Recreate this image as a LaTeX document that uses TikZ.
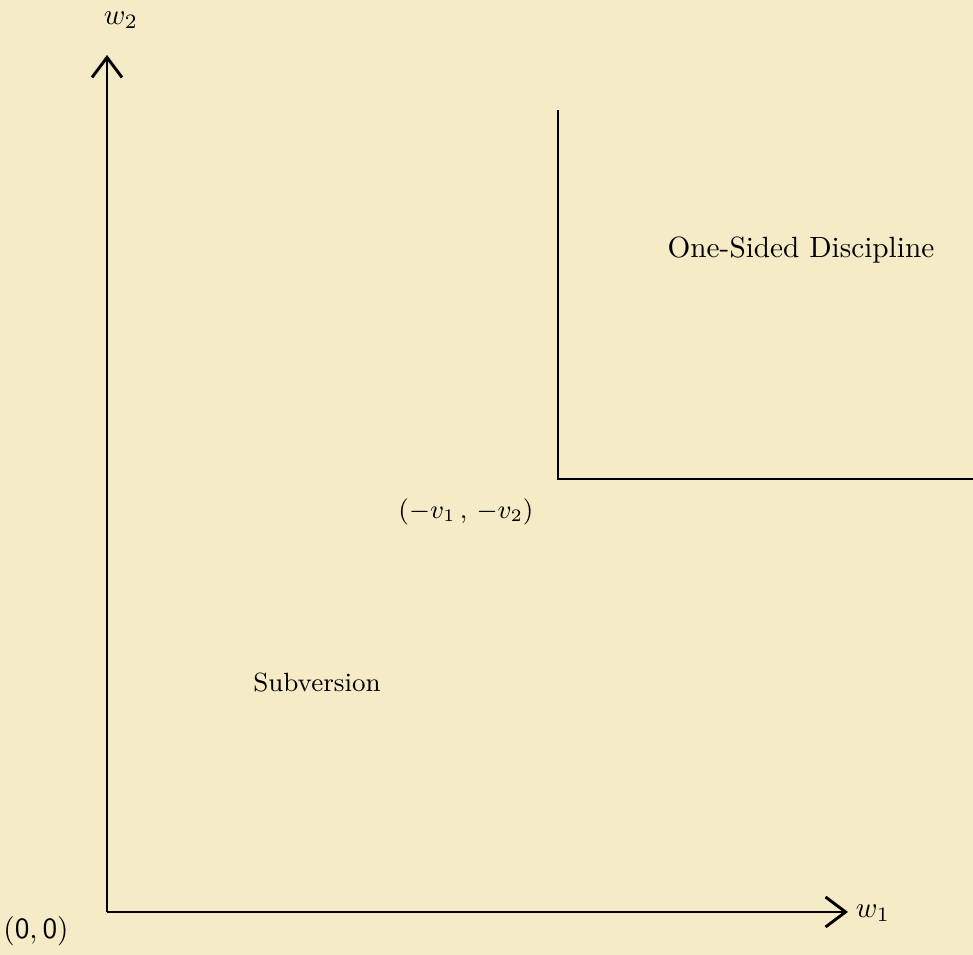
\documentclass[tikz,border=0pt]{standalone}
\usepackage{tikz}
\usetikzlibrary{arrows.meta,calc,positioning}
\definecolor{paper}{RGB}{245,235,199}

\begin{document}
\begin{tikzpicture}[
    x=0.12mm, y=-0.12mm,
    axis/.style={line width=1pt,-{Straight Barb[length=2.4mm,width=3.6mm,line width=1pt]}},
    edge/.style={line width=0.9pt},
    lbl/.style={inner sep=1pt, font=\small}
]
    \fill[paper] (0,0) rectangle (973,955);
    \useasboundingbox (0,0) rectangle (973,955);

    % axes
    \coordinate (o) at (107,912);
    \coordinate (xend) at (848,912);
    \coordinate (yend) at (107,55);
    \draw[axis] (o) -- (xend);
    \draw[axis] (o) -- (yend);
    \node[lbl,font=\normalsize] (w1) at (873,913) {$w_1$};
    \node[lbl,font=\normalsize] (w2) at (121,20) {$w_2$};
    \node[lbl,font=\normalsize\sffamily] (orig) at (36,931) {$\mathsf{(0,0)}$};

    % region boundary
    \coordinate (corner) at (558,479);
    \coordinate (top) at (558,110);
    \coordinate (right) at (973,479);
    \draw[edge] (top) -- (corner) -- (right);
    \node[lbl] (v) at (466,512) {$(-v_1\,,\,-v_2)$};

    % regions
    \node[lbl,font=\normalsize] (disc) at (801,250) {One-Sided Discipline};
    \node[lbl] (subv) at (317,683) {Subversion};
\end{tikzpicture}
\end{document}
